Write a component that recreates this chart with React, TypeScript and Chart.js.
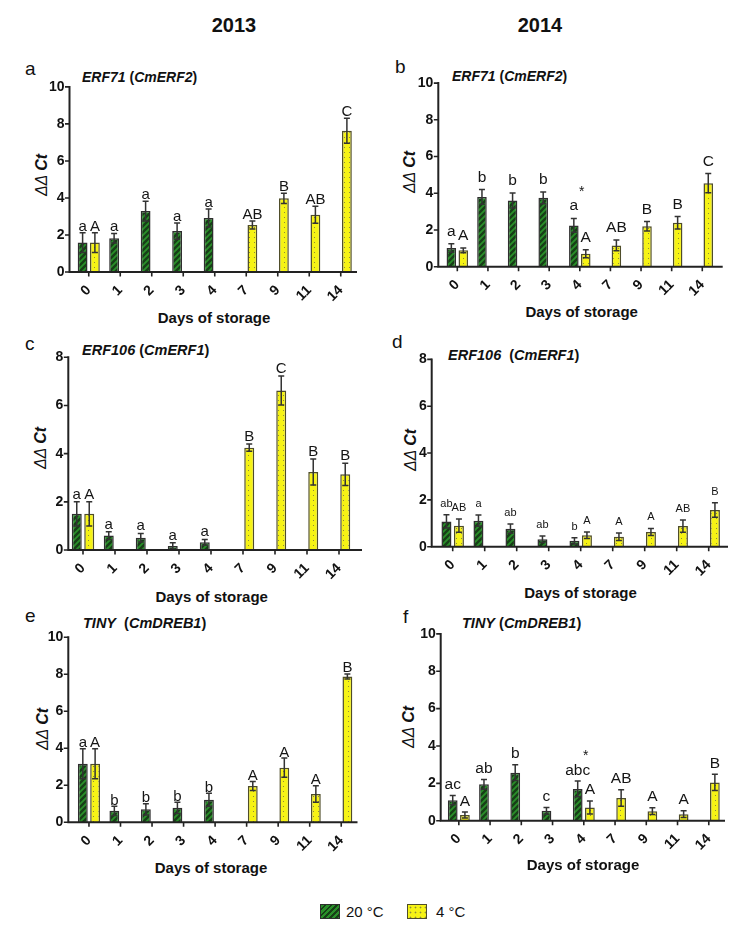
import React, { useEffect, useRef } from "react";
import { Chart, registerables } from "chart.js";

Chart.register(...registerables);

const FONT = "'Liberation Sans', Arial, Helvetica, sans-serif";

// ---- categories ----
const days = ["0", "1", "2", "3", "4", "7", "9", "11", "14"];

// ---- Panel a: 2013 ERF71 (CmERF2) ----
const aWarm = [1.59, 1.82, 3.29, 2.21, 2.92, null, null, null, null];
const aWarmErr = [0.53, 0.26, 0.53, 0.44, 0.49, null, null, null, null];
const aCold = [1.59, null, null, null, null, 2.54, 3.98, 3.09, 7.63];
const aColdErr = [0.53, null, null, null, null, 0.22, 0.28, 0.46, 0.67];
const aWarmLetters = ["a", "a", "a", "a", "a", "", "", "", ""];
const aColdLetters = ["A", "", "", "", "", "AB", "B", "AB", "C"];
const aStars = ["", "", "", "", "", "", "", "", ""];

// ---- Panel b: 2014 ERF71 (CmERF2) ----
const bWarm = [1.02, 3.8, 3.61, 3.75, 2.25, null, null, null, null];
const bWarmErr = [0.23, 0.4, 0.41, 0.32, 0.38, null, null, null, null];
const bCold = [0.89, null, null, null, 0.71, 1.16, 2.2, 2.39, 4.55];
const bColdErr = [0.13, null, null, null, 0.22, 0.29, 0.26, 0.34, 0.52];
const bWarmLetters = ["a", "b", "b", "b", "a", "", "", "", ""];
const bColdLetters = ["A", "", "", "", "A", "AB", "B", "B", "C"];
const bStars = ["", "", "", "", "*", "", "", "", ""];

// ---- Panel c: 2013 ERF106 (CmERF1) ----
const cWarm = [1.5, 0.6, 0.51, 0.17, 0.32, null, null, null, null];
const cWarmErr = [0.5, 0.16, 0.18, 0.13, 0.12, null, null, null, null];
const cCold = [1.5, null, null, null, null, 4.25, 6.62, 3.24, 3.14];
const cColdErr = [0.5, null, null, null, null, 0.15, 0.6, 0.54, 0.46];
const cWarmLetters = ["a", "a", "a", "a", "a", "", "", "", ""];
const cColdLetters = ["A", "", "", "", "", "B", "C", "B", "B"];
const cStars = ["", "", "", "", "", "", "", "", ""];

// ---- Panel d: 2014 ERF106 (CmERF1) ----
const dWarm = [1.08, 1.11, 0.77, 0.32, 0.25, null, null, null, null];
const dWarmErr = [0.28, 0.24, 0.2, 0.14, 0.13, null, null, null, null];
const dCold = [0.9, null, null, null, 0.49, 0.42, 0.63, 0.88, 1.57];
const dColdErr = [0.28, null, null, null, 0.14, 0.16, 0.15, 0.26, 0.31];
const dWarmLetters = ["ab", "a", "ab", "ab", "b", "", "", "", ""];
const dColdLetters = ["AB", "", "", "", "A", "A", "A", "AB", "B"];
const dStars = ["", "", "", "", "", "", "", "", ""];

// ---- Panel e: 2013 TINY (CmDREB1) ----
const eWarm = [3.16, 0.62, 0.7, 0.78, 1.22, null, null, null, null];
const eWarmErr = [0.81, 0.25, 0.3, 0.31, 0.35, null, null, null, null];
const eCold = [3.16, null, null, null, null, 1.96, 2.95, 1.53, 7.88];
const eColdErr = [0.81, null, null, null, null, 0.24, 0.52, 0.45, 0.14];
const eWarmLetters = ["a", "b", "b", "b", "b", "", "", "", ""];
const eColdLetters = ["A", "", "", "", "", "A", "A", "A", "B"];
const eStars = ["", "", "", "", "", "", "", "", ""];

// ---- Panel f: 2014 TINY (CmDREB1) ----
const fWarm = [1.1, 1.95, 2.57, 0.53, 1.7, null, null, null, null];
const fWarmErr = [0.25, 0.26, 0.42, 0.18, 0.42, null, null, null, null];
const fCold = [0.3, null, null, null, 0.71, 1.22, 0.51, 0.35, 2.05];
const fColdErr = [0.16, null, null, null, 0.35, 0.44, 0.18, 0.18, 0.43];
const fWarmLetters = ["ac", "ab", "b", "c", "abc", "", "", "", ""];
const fColdLetters = ["A", "", "", "", "A", "AB", "A", "A", "B"];
const fStars = ["", "", "", "", "*", "", "", "", ""];

const seriesNames = ["20 °C", "4 °C"];

type Num = number | null;
type PanelSpec = {
  warm: Num[]; warmErr: Num[]; cold: Num[]; coldErr: Num[];
  warmLetters: string[]; coldLetters: string[]; stars: string[];
  yMax: number;
  // layout (page px)
  left: number; right: number; top: number; bottom: number;
  axisX: number; axisEnd: number;
  gap: number; letterSize: number; starGap: number;
};

const panels: Record<string, PanelSpec> = {
  a: { warm: aWarm, warmErr: aWarmErr, cold: aCold, coldErr: aColdErr, warmLetters: aWarmLetters, coldLetters: aColdLetters, stars: aStars, yMax: 10,
       left: 73, right: 356.5, top: 84.5, bottom: 272, axisX: 69.5, axisEnd: 357, gap: 2, letterSize: 15, starGap: 22 },
  b: { warm: bWarm, warmErr: bWarmErr, cold: bCold, coldErr: bColdErr, warmLetters: bWarmLetters, coldLetters: bColdLetters, stars: bStars, yMax: 10,
       left: 442, right: 717.6, top: 80, bottom: 266.7, axisX: 438.3, axisEnd: 722.7, gap: 8, letterSize: 15.5, starGap: 22 },
  c: { warm: cWarm, warmErr: cWarmErr, cold: cCold, coldErr: cColdErr, warmLetters: cWarmLetters, coldLetters: cColdLetters, stars: cStars, yMax: 8,
       left: 67, right: 355, top: 357.3, bottom: 550, axisX: 68.3, axisEnd: 362, gap: 3, letterSize: 15, starGap: 22 },
  d: { warm: dWarm, warmErr: dWarmErr, cold: dCold, coldErr: dColdErr, warmLetters: dWarmLetters, coldLetters: dColdLetters, stars: dStars, yMax: 8,
       left: 436.7, right: 724.7, top: 355, bottom: 546.7, axisX: 431.7, axisEnd: 728, gap: 8, letterSize: 11, starGap: 22 },
  e: { warm: eWarm, warmErr: eWarmErr, cold: eCold, coldErr: eColdErr, warmLetters: eWarmLetters, coldLetters: eColdLetters, stars: eStars, yMax: 10,
       left: 73.2, right: 357, top: 633.3, bottom: 822.3, axisX: 68.3, axisEnd: 357.5, gap: 1.5, letterSize: 15, starGap: 22 },
  f: { warm: fWarm, warmErr: fWarmErr, cold: fCold, coldErr: fColdErr, warmLetters: fWarmLetters, coldLetters: fColdLetters, stars: fStars, yMax: 10,
       left: 443.2, right: 724.4, top: 632.3, bottom: 820.7, axisX: 440.7, axisEnd: 725, gap: 6.5, letterSize: 15.5, starGap: 22.5 },
};

function greenPattern(ctx: CanvasRenderingContext2D): CanvasPattern | string {
  const c = document.createElement("canvas");
  c.width = 6; c.height = 6;
  const g = c.getContext("2d");
  if (!g) return "#237a23";
  g.fillStyle = "#2a8f2a";
  g.fillRect(0, 0, 6, 6);
  g.strokeStyle = "#173f17";
  g.lineWidth = 2.4;
  g.beginPath();
  g.moveTo(-1, 7); g.lineTo(7, -1);
  g.moveTo(-4, 4); g.lineTo(4, -4);
  g.moveTo(2, 10); g.lineTo(10, 2);
  g.stroke();
  return ctx.createPattern(c, "repeat") || "#237a23";
}

function yellowPattern(ctx: CanvasRenderingContext2D): CanvasPattern | string {
  const c = document.createElement("canvas");
  c.width = 5; c.height = 5;
  const g = c.getContext("2d");
  if (!g) return "#f5f213";
  g.fillStyle = "#f6f315";
  g.fillRect(0, 0, 5, 5);
  g.fillStyle = "#8c8a3c";
  g.fillRect(2, 2, 1, 1);
  return ctx.createPattern(c, "repeat") || "#f5f213";
}

function BarPanel({ p }: { p: PanelSpec }) {
  const ref = useRef<HTMLCanvasElement>(null);
  const x0 = Math.floor(p.axisX - 52);
  const y0 = Math.floor(p.top - 14);
  const x1 = Math.ceil(Math.max(p.axisEnd, p.right) + 14);
  const y1 = Math.ceil(p.bottom + 36);
  const w = x1 - x0;
  const h = y1 - y0;

  useEffect(() => {
    const canvas = ref.current;
    if (!canvas) return;
    const ctx2 = canvas.getContext("2d")!;
    const errs = [p.warmErr, p.coldErr];
    const lets = [p.warmLetters, p.coldLetters];

    const decor = {
      id: "decor",
      afterDatasetsDraw(chart: any) {
        const ctx: CanvasRenderingContext2D = chart.ctx;
        const ys = chart.scales.y;
        const xs = chart.scales.x;
        const ca = chart.chartArea;
        ctx.save();
        // error bars + letters
        for (let di = 0; di < 2; di++) {
          const meta = chart.getDatasetMeta(di);
          const vals = chart.data.datasets[di].data as Num[];
          meta.data.forEach((el: any, j: number) => {
            const v = vals[j];
            if (v == null) return;
            const e = errs[di][j] ?? 0;
            const x = el.x;
            const yt = ys.getPixelForValue(v + e);
            const yb = ys.getPixelForValue(Math.max(v - e, 0));
            ctx.strokeStyle = "#333333";
            ctx.lineWidth = 1.5;
            ctx.beginPath();
            ctx.moveTo(x, yt); ctx.lineTo(x, yb);
            ctx.moveTo(x - 3, yt); ctx.lineTo(x + 3, yt);
            ctx.moveTo(x - 3, yb); ctx.lineTo(x + 3, yb);
            ctx.stroke();
            const t = lets[di][j];
            if (t) {
              ctx.fillStyle = "#151515";
              ctx.font = `${p.letterSize}px ${FONT}`;
              ctx.textAlign = "center";
              ctx.textBaseline = "alphabetic";
              ctx.fillText(t, x, yt - p.gap);
            }
          });
        }
        // stars (significance between temperatures)
        p.stars.forEach((s, j) => {
          if (!s) return;
          const v = p.warm[j];
          if (v == null) return;
          const e = p.warmErr[j] ?? 0;
          const yt = ys.getPixelForValue(v + e) - p.gap - p.starGap;
          ctx.fillStyle = "#151515";
          ctx.font = `14px ${FONT}`;
          ctx.textAlign = "center";
          ctx.textBaseline = "alphabetic";
          ctx.fillText(s, xs.getPixelForValue(j) + 2, yt + 8);
        });
        // axes
        const ax = p.axisX - x0;
        const ae = p.axisEnd - x0;
        ctx.strokeStyle = "#222222";
        ctx.lineWidth = 2;
        ctx.beginPath();
        ctx.moveTo(ax, ca.top - 1);
        ctx.lineTo(ax, ca.bottom + 1);
        ctx.moveTo(ax - 1, ca.bottom);
        ctx.lineTo(ae, ca.bottom);
        ctx.stroke();
        ctx.lineWidth = 1.6;
        ctx.beginPath();
        for (let v = 0; v <= p.yMax; v += 2) {
          const py = ys.getPixelForValue(v);
          ctx.moveTo(ax - 4.5, py);
          ctx.lineTo(ax, py);
        }
        for (let j = 0; j < days.length; j++) {
          const px = xs.getPixelForValue(j);
          ctx.moveTo(px, ca.bottom);
          ctx.lineTo(px, ca.bottom + 4.5);
        }
        ctx.stroke();
        ctx.restore();
      },
    };

    const chart = new Chart(canvas, {
      type: "bar",
      data: {
        labels: days,
        datasets: [
          {
            label: seriesNames[0],
            data: p.warm as any,
            backgroundColor: greenPattern(ctx2) as any,
            borderColor: "#2e2e2e",
            borderWidth: 1.5,
            categoryPercentage: 0.78,
            barPercentage: 0.8,
          },
          {
            label: seriesNames[1],
            data: p.cold as any,
            backgroundColor: yellowPattern(ctx2) as any,
            borderColor: "#4f4d2a",
            borderWidth: 1.5,
            categoryPercentage: 0.78,
            barPercentage: 0.8,
          },
        ],
      },
      options: {
        responsive: false,
        animation: false,
        devicePixelRatio: 1,
        layout: { padding: { left: 0, top: p.top - y0, right: x1 - p.right, bottom: 0 } },
        plugins: { legend: { display: false }, tooltip: { enabled: false } },
        scales: {
          x: {
            type: "category",
            offset: true,
            grid: { display: false, drawTicks: false },
            border: { display: false },
            ticks: {
              autoSkip: false,
              maxRotation: 45,
              minRotation: 45,
              padding: 10,
              color: "#111111",
              font: { family: FONT, size: 14, weight: "bold" },
            },
            afterFit: (s: any) => { s.height = y1 - p.bottom; },
          },
          y: {
            min: 0,
            max: p.yMax,
            grid: { display: false, drawTicks: false },
            border: { display: false },
            ticks: {
              stepSize: 2,
              padding: p.left - p.axisX + 5,
              color: "#111111",
              font: { family: FONT, size: 14, weight: "bold" },
            },
            afterFit: (s: any) => { s.width = p.left - x0; },
          },
        },
      } as any,
      plugins: [decor],
    });
    return () => chart.destroy();
  }, []);

  return (
    <canvas
      ref={ref}
      width={w}
      height={h}
      style={{ position: "absolute", left: x0, top: y0, width: w, height: h }}
    />
  );
}

function Txt({ x, base, size, bold, italic, center, children }: any) {
  return (
    <div
      style={{
        position: "absolute",
        left: x,
        top: base - 0.8465 * size,
        transform: center ? "translateX(-50%)" : undefined,
        fontFamily: FONT,
        fontSize: size,
        lineHeight: `${size}px`,
        fontWeight: bold ? "bold" : "normal",
        fontStyle: italic ? "italic" : "normal",
        whiteSpace: "pre",
        color: "#111",
      }}
    >
      {children}
    </div>
  );
}

function GeneTitle({ x, base, size, parts }: { x: number; base: number; size: number; parts: [string, boolean][] }) {
  return (
    <Txt x={x} base={base} size={size} bold>
      {parts.map(([t, it], i) => (
        <span key={i} style={{ fontStyle: it ? "italic" : "normal" }}>{t}</span>
      ))}
    </Txt>
  );
}

function YTitle({ cx, cy }: { cx: number; cy: number }) {
  return (
    <div
      style={{
        position: "absolute",
        left: cx,
        top: cy,
        transform: "translate(-50%, -50%) rotate(-90deg)",
        fontFamily: FONT,
        fontSize: 16,
        lineHeight: "16px",
        whiteSpace: "pre",
        color: "#111",
      }}
    >
      <span style={{ fontStyle: "italic" }}>ΔΔ </span>
      <span style={{ fontStyle: "italic", fontWeight: "bold" }}>Ct</span>
    </div>
  );
}

export default function App() {
  return (
    <div style={{ position: "absolute", left: 0, top: 0, width: 749, height: 943, background: "#fff", overflow: "hidden" }}>
      <Txt x={234} base={31.5} size={20} bold center>2013</Txt>
      <Txt x={540} base={31.5} size={20} bold center>2014</Txt>

      <Txt x={25} base={75} size={19}>a</Txt>
      <Txt x={395} base={73} size={19}>b</Txt>
      <Txt x={25} base={350} size={19}>c</Txt>
      <Txt x={392} base={348} size={19}>d</Txt>
      <Txt x={25} base={622} size={19}>e</Txt>
      <Txt x={403} base={623} size={19}>f</Txt>

      <GeneTitle x={82} base={81.7} size={14} parts={[["ERF71", true], [" (", false], ["CmERF2", true], [")", false]]} />
      <GeneTitle x={452} base={81} size={14} parts={[["ERF71", true], [" (", false], ["CmERF2", true], [")", false]]} />
      <GeneTitle x={82} base={355} size={14.5} parts={[["ERF106", true], [" (", false], ["CmERF1", true], [")", false]]} />
      <GeneTitle x={448} base={360} size={14.5} parts={[["ERF106", true], ["  (", false], ["CmERF1", true], [")", false]]} />
      <GeneTitle x={83} base={628} size={14.5} parts={[["TINY", true], ["  (", false], ["CmDREB1", true], [")", false]]} />
      <GeneTitle x={462} base={628} size={14.5} parts={[["TINY", true], [" (", false], ["CmDREB1", true], [")", false]]} />

      <YTitle cx={42} cy={175} />
      <YTitle cx={410} cy={172} />
      <YTitle cx={41} cy={448} />
      <YTitle cx={411} cy={450} />
      <YTitle cx={42.5} cy={729} />
      <YTitle cx={409} cy={727} />

      <BarPanel p={panels.a} />
      <BarPanel p={panels.b} />
      <BarPanel p={panels.c} />
      <BarPanel p={panels.d} />
      <BarPanel p={panels.e} />
      <BarPanel p={panels.f} />

      <Txt x={214} base={322.7} size={15} bold center>Days of storage</Txt>
      <Txt x={581.7} base={317} size={15} bold center>Days of storage</Txt>
      <Txt x={211.7} base={601.7} size={15} bold center>Days of storage</Txt>
      <Txt x={580.5} base={598} size={15} bold center>Days of storage</Txt>
      <Txt x={211} base={872.5} size={15} bold center>Days of storage</Txt>
      <Txt x={583} base={870} size={15} bold center>Days of storage</Txt>

      <div style={{ position: "absolute", left: 320, top: 904, width: 18, height: 13, border: "1.5px solid #2e2e2e",
        background: "repeating-linear-gradient(135deg, #2a8f2a 0px, #2a8f2a 2.2px, #173f17 2.2px, #173f17 4.2px)" }} />
      <Txt x={346} base={917} size={15}>{seriesNames[0]}</Txt>
      <div style={{ position: "absolute", left: 407, top: 904, width: 18, height: 13, border: "1.5px solid #4f4d2a",
        backgroundColor: "#f6f315", backgroundImage: "radial-gradient(#8c8a3c 0.8px, transparent 1.1px)", backgroundSize: "5px 5px" }} />
      <Txt x={436} base={917} size={15}>{seriesNames[1]}</Txt>
    </div>
  );
}
